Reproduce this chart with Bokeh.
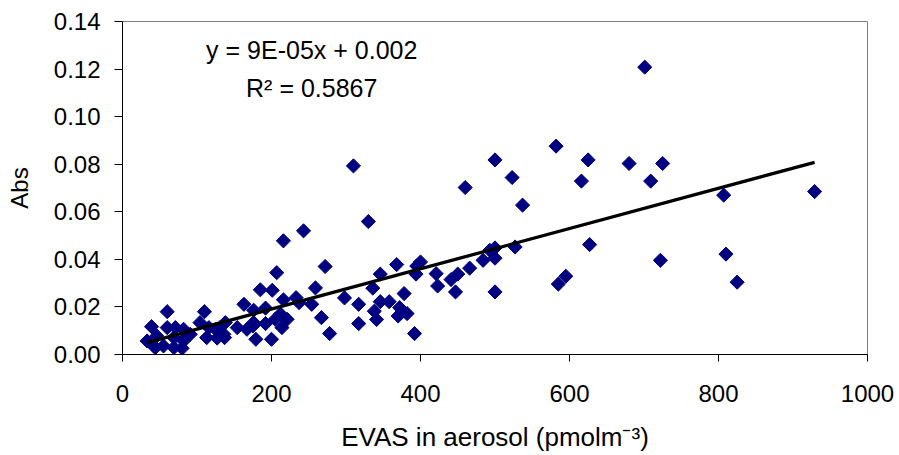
import numpy as np
from bokeh.plotting import figure
from bokeh.models import Label, FixedTicker, NumeralTickFormatter, Range1d
from bokeh.embed import file_html
from bokeh.resources import INLINE

# ---- data ----
evas = [701, 582, 625, 680, 725, 616, 709, 807, 929, 627, 722, 810, 825, 595, 585,
        310, 500, 523, 460, 537, 330, 243, 216, 272, 207, 259, 233, 237, 254, 267,
        278, 298, 317, 317, 336, 346, 368, 338, 341, 346, 358, 378, 372, 382, 370,
        392, 400, 394, 395, 421, 423, 447, 441, 450, 466, 484, 493, 500, 500, 500, 527,
        185, 201, 216, 176, 192, 176, 192, 205, 214, 221, 214, 179, 200, 212, 60,
        110, 39, 33, 46, 42, 55, 69, 80, 60, 71, 82, 91, 69, 82, 104,
        116, 113, 127, 125, 131, 138, 136, 154, 163, 167, 176, 175, 44, 85, 137]
absorb = [0.1208, 0.0876, 0.0818, 0.0803, 0.0803, 0.0729, 0.0729, 0.0670, 0.0685, 0.0462,
          0.0396, 0.0422, 0.0304, 0.0329, 0.0296,
          0.0793, 0.0818, 0.0744, 0.0702, 0.0628, 0.0559, 0.0520, 0.0478, 0.0370, 0.0344,
          0.0280, 0.0239, 0.0218, 0.0211, 0.0155, 0.0088, 0.0238, 0.0211, 0.0130, 0.0279,
          0.0338, 0.0378, 0.0182, 0.0147, 0.0222, 0.0222, 0.0256, 0.0197, 0.0172, 0.0162,
          0.0088, 0.0389, 0.0338, 0.0372, 0.0340, 0.0288, 0.0263, 0.0315, 0.0338, 0.0363,
          0.0396, 0.0438, 0.0405, 0.0448, 0.0263, 0.0452,
          0.0272, 0.0270, 0.0230, 0.0186, 0.0195, 0.0127, 0.0130, 0.0148, 0.0162, 0.0148,
          0.0113, 0.0064, 0.0064, 0.0170, 0.0180, 0.0180, 0.0117, 0.0057, 0.0078, 0.0036,
          0.0036, 0.0029, 0.0026, 0.0113, 0.0113, 0.0106, 0.0085, 0.0071, 0.0057, 0.0134,
          0.0113, 0.0071, 0.0069, 0.0106, 0.0113, 0.0134, 0.0085, 0.0113, 0.0211, 0.0106,
          0.0134, 0.0120, 0.0029, 0.0071, 0.0071]

# linear trend line (as drawn in the reference)
trend_slope = 8.46e-5
trend_intercept = 0.0022
equation_text = "y = 9E-05x + 0.002"
r2_text = "R\u00b2 = 0.5867"

x_ticks = [0, 200, 400, 600, 800, 1000]
y_ticks = [0.00, 0.02, 0.04, 0.06, 0.08, 0.10, 0.12, 0.14]

x_title = "EVAS in aerosol (pmolm\u207b\u00b3)"
y_title = "Abs"

FONT = "Liberation Sans"

p = figure(width=899, height=455, output_backend="svg", toolbar_location=None,
           x_range=Range1d(0, 1000), y_range=Range1d(0, 0.14),
           min_border_left=122, min_border_right=32, min_border_top=21,
           min_border_bottom=101, background_fill_color="white",
           border_fill_color="white")
p.grid.visible = False
p.outline_line_color = "#808080"
p.outline_line_width = 1

p.xaxis.ticker = FixedTicker(ticks=x_ticks)
p.yaxis.ticker = FixedTicker(ticks=y_ticks)
p.yaxis.formatter = NumeralTickFormatter(format="0.00")

for ax in (p.xaxis[0], p.yaxis[0]):
    ax.axis_line_color = "black"
    ax.major_tick_line_color = "black"
    ax.minor_tick_line_color = None
    ax.major_tick_in = 0
    ax.major_label_text_font = FONT
    ax.major_label_text_font_size = "24px"
    ax.major_label_text_color = "black"
    ax.axis_label_text_font = FONT
    ax.axis_label_text_font_style = "normal"
    ax.axis_label_text_color = "black"

p.xaxis.axis_label_text_font_size = "26px"
p.yaxis.axis_label_text_font_size = "24px"
p.xaxis.major_tick_out = 7
p.yaxis.major_tick_out = 8
p.xaxis.major_label_standoff = 23
p.yaxis.major_label_standoff = 14
p.xaxis.axis_label = x_title
p.yaxis.axis_label = y_title
p.xaxis.axis_label_standoff = 17
p.yaxis.axis_label_standoff = 18

p.scatter(evas, absorb, marker="square", size=10, angle=np.pi / 4,
          fill_color="#000080", line_color="#000080")

fit_x = np.array([min(evas), max(evas)], dtype=float)
fit_y = trend_slope * fit_x + trend_intercept
p.line(fit_x, fit_y, line_color="black", line_width=3.3)

p.add_layout(Label(x=254, y=0.1279, text=equation_text, text_align="center",
                   text_baseline="alphabetic", text_font=FONT,
                   text_font_size="25px", text_color="black"))
p.add_layout(Label(x=254, y=0.1121, text=r2_text, text_align="center",
                   text_baseline="alphabetic", text_font=FONT,
                   text_font_size="25px", text_color="black"))

open("out.html", "w").write(file_html(p, INLINE))
